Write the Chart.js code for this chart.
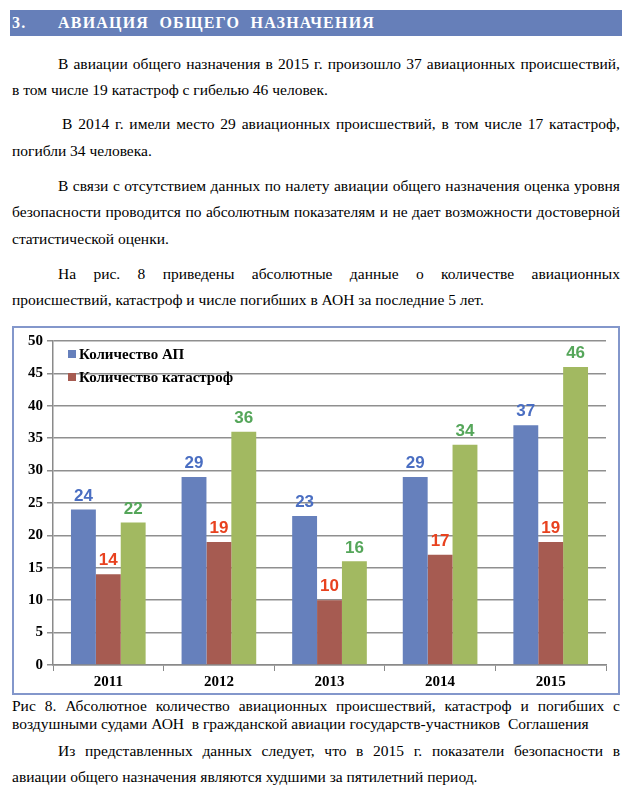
<!DOCTYPE html>
<html>
<head>
<meta charset="utf-8">
<script src="https://cdn.jsdelivr.net/npm/chart.js@4.4.0/dist/chart.umd.min.js"></script>
<style>
  body { margin: 0; background: #fff; width: 641px; height: 794px; position: relative; overflow: hidden; color: #000; }
  .hdr { position: absolute; left: 10px; top: 10px; width: 612px; height: 26px; background: #667fb9; }
  .hdr span { position: absolute; top: 4px; color: #fff; font-family: "Liberation Serif", "Times New Roman", serif;
              font-weight: bold; font-size: 16px; letter-spacing: 1.2px; white-space: pre; }
  .ln { position: absolute; font-family: "Liberation Serif", "Times New Roman", serif;
        font-size: 15.5px; line-height: 20px; white-space: nowrap; }
  .j { text-align: justify; text-align-last: justify; }
  .box { position: absolute; left: 12px; top: 326px; width: 604px; height: 365px; border: 2px solid #8397cb; }
  .lg { position: absolute; font-family: "Liberation Serif", "Times New Roman", serif; font-weight: bold; font-size: 15px; line-height: 18px; white-space: nowrap; }
  .lg i { display: inline-block; width: 8px; height: 8px; margin-right: 3px; vertical-align: 1px; }
</style>
</head>
<body>

<div class="hdr"><span style="left:2px">3.</span><span style="left:48px">АВИАЦИЯ  ОБЩЕГО  НАЗНАЧЕНИЯ</span></div>

<div class="ln j" style="left:58px;top:54px;width:562px">В авиации общего назначения в 2015 г. произошло 37 авиационных происшествий,</div>
<div class="ln" style="left:12px;top:80px">в том числе 19 катастроф с гибелью 46 человек.</div>

<div class="ln j" style="left:62px;top:114px;width:558px">В 2014 г. имели место 29 авиационных происшествий, в том числе 17 катастроф,</div>
<div class="ln" style="left:12px;top:141px">погибли 34 человека.</div>

<div class="ln j" style="left:58px;top:176px;width:562px">В связи с отсутствием данных по налету авиации общего назначения оценка уровня</div>
<div class="ln j" style="left:12px;top:202px;width:608px">безопасности проводится по абсолютным показателям и не дает возможности достоверной</div>
<div class="ln" style="left:12px;top:229px">статистической оценки.</div>

<div class="ln j" style="left:58px;top:264px;width:562px">На рис. 8 приведены абсолютные данные о количестве авиационных</div>
<div class="ln" style="left:12px;top:290px">происшествий, катастроф и числе погибших в АОН за последние 5 лет.</div>

<div class="box">
  <canvas id="chart-aon" width="604" height="365"></canvas>
  <div id="legend-aon"></div>
</div>

<div class="ln j" style="left:12px;top:696px;width:608px">Рис 8. Абсолютное количество авиационных происшествий, катастроф и погибших с</div>
<div class="ln" style="left:12px;top:714px">воздушными судами АОН&nbsp; в гражданской авиации государств-участников&nbsp; Соглашения</div>

<div class="ln j" style="left:58px;top:741px;width:562px">Из представленных данных следует, что в 2015 г. показатели безопасности в</div>
<div class="ln" style="left:12px;top:767px">авиации общего назначения являются худшими за пятилетний период.</div>

<script>
// --- dati del grafico ---
var anni = ['2011', '2012', '2013', '2014', '2015'];
var numeroAP = [24, 29, 23, 29, 37];
var numeroCatastrofi = [14, 19, 10, 17, 19];
var numeroVittime = [22, 36, 16, 34, 46];
var tickY = [0, 5, 10, 15, 20, 25, 30, 35, 40, 45, 50];

var serieLabel = ['Количество АП', 'Количество катастроф', 'Погибшие'];
var coloriBarre = ['#6680bc', '#a65b51', '#a2b961'];
var coloriValori = ['#4a6ec2', '#e8421f', '#55a65a'];

// valori sopra le barre
var etichettePlugin = {
    id: 'etichette',
    afterDatasetsDraw: function (chart) {
        var ctx = chart.ctx;
        ctx.save();
        ctx.font = 'bold 17px "Liberation Sans", Arial, sans-serif';
        ctx.textAlign = 'center';
        ctx.textBaseline = 'bottom';
        chart.data.datasets.forEach(function (ds, i) {
            var meta = chart.getDatasetMeta(i);
            ctx.fillStyle = coloriValori[i];
            meta.data.forEach(function (bar, j) {
                ctx.fillText(ds.data[j], bar.x, bar.y - 5);
            });
        });
        ctx.restore();
    }
};

var ctx = document.getElementById('chart-aon');
var chart = new Chart(ctx, {
    type: 'bar',
    data: {
        labels: anni,
        datasets: [{
            label: serieLabel[0],
            backgroundColor: coloriBarre[0],
            data: numeroAP
        },
        {
            label: serieLabel[1],
            backgroundColor: coloriBarre[1],
            data: numeroCatastrofi
        },
        {
            label: serieLabel[2],
            backgroundColor: coloriBarre[2],
            data: numeroVittime
        }]
    },
    options: {
        responsive: false,
        animation: false,
        layout: { padding: { left: 0, right: 12, top: 12, bottom: 0 } },
        datasets: { bar: { categoryPercentage: 0.675, barPercentage: 1 } },
        plugins: {
            legend: { display: false },
            tooltip: { enabled: false }
        },
        scales: {
            x: {
                grid: { offset: true, drawOnChartArea: false, drawTicks: true, tickLength: 6, color: '#8a8a8a' },
                border: { color: '#8a8a8a', width: 1.5 },
                ticks: { color: '#000', font: { family: '"Liberation Serif", "Times New Roman", serif', weight: 'bold', size: 15 }, padding: 2 },
                afterFit: function (scale) { scale.height = 28; }
            },
            y: {
                min: 0,
                max: 50,
                afterBuildTicks: function (scale) {
                    scale.ticks = tickY.map(function (v) { return { value: v }; });
                },
                grid: { color: '#8f8f8f', lineWidth: 1.5, tickLength: 6 },
                border: { color: '#8a8a8a', width: 1.5 },
                ticks: { color: '#000', font: { family: '"Liberation Serif", "Times New Roman", serif', weight: 'bold', size: 15 }, padding: 4 },
                afterFit: function (scale) { scale.width = 39; }
            }
        }
    },
    plugins: [etichettePlugin]
});

// legenda dentro l'area del grafico (solo le prime due serie)
var leg = document.getElementById('legend-aon');
for (var k = 0; k < 2; k++) {
    var d = document.createElement('div');
    d.className = 'lg';
    d.style.left = '54px';
    d.style.top = (17 + k * 23) + 'px';
    d.innerHTML = '<i style="background:' + coloriBarre[k] + '"></i>' + serieLabel[k];
    leg.appendChild(d);
}
</script>
</body>
</html>
